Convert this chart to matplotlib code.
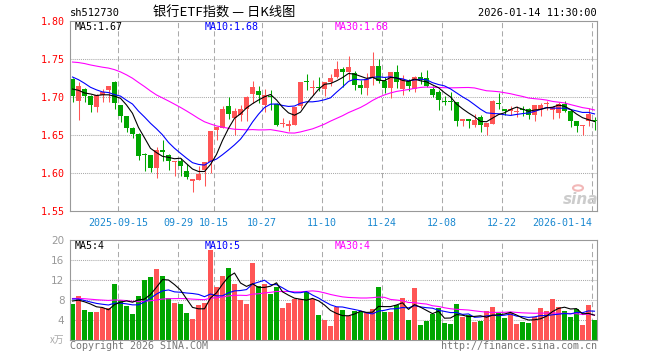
import numpy as np
import matplotlib
matplotlib.use('Agg')
import matplotlib.pyplot as plt
from matplotlib.patches import Circle

plt.rcParams['font.family'] = ['DejaVu Sans Mono', 'Noto Sans CJK SC']

# 日K数据 (2025-09-03 .. 2026-01-14)
open_ = [1.7237, 1.6943, 1.7110, 1.7018, 1.6864, 1.7022, 1.7088, 1.7202, 1.6899, 1.6754,
         1.6588, 1.6518, 1.6240, 1.6232, 1.6061, 1.6307, 1.6241, 1.6143, 1.6153, 1.6030,
         1.5891, 1.5912, 1.6035, 1.6145, 1.6562, 1.6592, 1.6886, 1.6724, 1.6763, 1.6846,
         1.7039, 1.7074, 1.6890, 1.7002, 1.6912, 1.6647, 1.6623, 1.6636, 1.6877, 1.7199,
         1.7116, 1.7120, 1.7105, 1.7193, 1.7259, 1.7364, 1.7333, 1.7311, 1.7154, 1.7114,
         1.7245, 1.7412, 1.7215, 1.7118, 1.7333, 1.7110, 1.7206, 1.7110, 1.7259, 1.7250,
         1.7110, 1.7061, 1.6940, 1.6940, 1.6938, 1.6680, 1.6715, 1.6631, 1.6737, 1.6601,
         1.6645, 1.6914, 1.6846, 1.6811, 1.6809, 1.6827, 1.6846, 1.6768, 1.6846, 1.6910,
         1.6825, 1.6790, 1.6908, 1.6811, 1.6680, 1.6625, 1.6680, 1.6702]
high = [1.7245, 1.7197, 1.7115, 1.7030, 1.7035, 1.7105, 1.7150, 1.7205, 1.6900, 1.6755,
        1.6605, 1.6520, 1.6263, 1.6235, 1.6342, 1.6430, 1.6245, 1.6160, 1.6197, 1.6123,
        1.5921, 1.6096, 1.6145, 1.6557, 1.6606, 1.6877, 1.6999, 1.6855, 1.6899, 1.7018,
        1.7215, 1.7149, 1.7110, 1.7096, 1.6915, 1.6724, 1.6693, 1.6870, 1.7202, 1.7307,
        1.7219, 1.7263, 1.7202, 1.7307, 1.7478, 1.7399, 1.7535, 1.7340, 1.7224, 1.7320,
        1.7588, 1.7504, 1.7259, 1.7333, 1.7417, 1.7294, 1.7237, 1.7281, 1.7325, 1.7360,
        1.7149, 1.7088, 1.7018, 1.7061, 1.6938, 1.6715, 1.6715, 1.6781, 1.6768, 1.6658,
        1.6965, 1.7057, 1.6846, 1.6886, 1.6877, 1.6886, 1.6855, 1.6890, 1.6921, 1.6951,
        1.6886, 1.6930, 1.6952, 1.6811, 1.6680, 1.6627, 1.6855, 1.6741]
low = [1.6930, 1.6700, 1.6930, 1.6798, 1.6800, 1.6938, 1.6940, 1.6847, 1.6670, 1.6535,
       1.6456, 1.6167, 1.6022, 1.6009, 1.5934, 1.6153, 1.6035, 1.5956, 1.5956, 1.5921,
       1.5746, 1.5912, 1.5833, 1.6000, 1.6438, 1.6592, 1.6715, 1.6500, 1.6680, 1.6680,
       1.6921, 1.6921, 1.6798, 1.6833, 1.6614, 1.6605, 1.6548, 1.6636, 1.6855, 1.7088,
       1.7031, 1.7075, 1.7018, 1.7150, 1.7250, 1.7136, 1.7223, 1.7096, 1.7044, 1.7022,
       1.7154, 1.7184, 1.7053, 1.6982, 1.7118, 1.7022, 1.7075, 1.7061, 1.7175, 1.7132,
       1.6996, 1.6833, 1.6899, 1.6833, 1.6614, 1.6614, 1.6588, 1.6605, 1.6535, 1.6496,
       1.6645, 1.6846, 1.6763, 1.6763, 1.6737, 1.6746, 1.6715, 1.6680, 1.6755, 1.6833,
       1.6715, 1.6724, 1.6799, 1.6601, 1.6535, 1.6496, 1.6623, 1.6570]
close = [1.7018, 1.7149, 1.7009, 1.6890, 1.7031, 1.7066, 1.7149, 1.6917, 1.6754, 1.6588,
         1.6518, 1.6219, 1.6237, 1.6061, 1.6307, 1.6272, 1.6153, 1.6145, 1.6096, 1.5947,
         1.5921, 1.5991, 1.6145, 1.6557, 1.6606, 1.6846, 1.6781, 1.6811, 1.6846, 1.6995,
         1.7127, 1.7022, 1.7022, 1.7000, 1.6636, 1.6649, 1.6649, 1.6868, 1.7202, 1.7197,
         1.7118, 1.7118, 1.7202, 1.7250, 1.7373, 1.7333, 1.7390, 1.7158, 1.7114, 1.7232,
         1.7403, 1.7206, 1.7114, 1.7333, 1.7202, 1.7237, 1.7140, 1.7267, 1.7219, 1.7140,
         1.7031, 1.6956, 1.6938, 1.6938, 1.6680, 1.6715, 1.6680, 1.6693, 1.6627, 1.6658,
         1.6952, 1.6912, 1.6811, 1.6846, 1.6811, 1.6825, 1.6768, 1.6890, 1.6890, 1.6912,
         1.6868, 1.6908, 1.6811, 1.6680, 1.6614, 1.6627, 1.6776, 1.6689]
# 成交量 (万)
volume = [7.2, 8.8, 6.0, 5.6, 5.6, 6.5, 6.5, 11.2, 8.0, 6.9, 5.2, 8.8, 12.0, 12.6, 14.2,
          12.8, 8.4, 7.4, 7.2, 5.4, 4.2, 7.0, 7.4, 18.0, 10.6, 12.8, 14.4, 11.2, 8.0, 7.2,
          15.4, 10.8, 11.2, 9.2, 10.6, 6.4, 7.4, 8.2, 8.2, 9.6, 8.2, 5.0, 4.0, 2.8,
          6.6, 6.0, 4.8, 5.8, 5.6, 5.4, 6.2, 10.6, 5.6, 5.6, 7.0, 8.4, 4.0, 10.4, 3.0,
          3.8, 5.2, 6.4, 3.4, 3.2, 7.2, 4.6, 5.0, 3.6, 3.8, 5.8, 6.6, 5.4, 4.4, 5.4,
          3.2, 3.6, 3.4, 4.6, 6.4, 5.8, 8.2, 6.6, 5.8, 4.6, 6.2, 3.0, 7.0, 4.0]
# 图外的前29日 (只用于均线), 按均线起点估计
prev_close = [1.735, 1.740, 1.745, 1.748, 1.750, 1.750, 1.753,
              1.765, 1.775, 1.785, 1.790, 1.785, 1.780, 1.788,
              1.745, 1.735, 1.740, 1.738, 1.733, 1.737,
              1.750, 1.748, 1.742, 1.737, 1.7335,
              1.7234, 1.7184, 1.6955, 1.7134]
prev_vol = [8.0, 8.2, 8.5, 8.6, 8.8, 8.6, 8.5,
            9.0, 9.5, 10.0, 10.2, 9.8, 9.6, 9.6,
            7.0, 6.5, 6.6, 6.8, 6.6, 6.6,
            9.0, 8.8, 8.6, 8.4, 8.2,
            8.0, 7.6, 7.8, 8.4]

tick_idx = [8, 18, 24, 32, 42, 52, 62, 72, 87]
tick_labels = ['2025-09-15', '09-29', '10-15', '10-27', '11-10', '11-24', '12-08', '12-22', '2026-01-14']
price_ticks = [1.55, 1.60, 1.65, 1.70, 1.75, 1.80]
vol_ticks = [4, 8, 12, 16, 20]

RED = '#ff5555'
GREEN = '#00a600'
GRID = '#aaaaaa'
W, H = 660, 360

o = np.array(open_); h = np.array(high); l = np.array(low); c = np.array(close)
v = np.array(volume)
n = len(c)
x = np.arange(n)
xc = x + 2.5 / 6
colors = np.where(c >= o, RED, GREEN)


def ma(arr, k):
    return np.convolve(arr, np.ones(k) / k, 'valid')[-n:]


allc = np.array(prev_close + close)
allv = np.array(prev_vol + volume)
pma = {k: ma(allc, k) for k in (5, 10, 30)}
vma = {k: ma(allv, k) for k in (5, 10, 30)}

fig = plt.figure(figsize=(6.6, 3.6), dpi=100)
ax = fig.add_axes([70 / W, 1 - 211 / H, 527 / W, 190 / H])
axv = fig.add_axes([70 / W, 1 - 340 / H, 527 / W, 100 / H])


def ftext(px, py, s, **kw):
    fig.text(px / W, 1 - py / H, s, **kw)


for a in (ax, axv):
    a.set_xlim(0, 527 / 6)
    for sp in a.spines.values():
        sp.set_color('#999999')
        sp.set_linewidth(0.8)
    for t in tick_idx:
        a.axvline(t, color=GRID, lw=0.75, ls=(0, (5, 3)), zorder=0)

# K线
ax.set_ylim(1.55, 1.80)
for t in price_ticks[1:-1]:
    ax.axhline(t, color=GRID, lw=0.75, ls=(0, (1, 1)), zorder=0)
ax.vlines(xc, l, h, colors=colors, lw=0.75, zorder=2)
ax.bar(xc, np.maximum(np.abs(c - o), 0.0012), bottom=np.minimum(o, c), width=5 / 6,
       color=colors, linewidth=0, zorder=2)
ax.plot(xc, pma[30], color='#ff00ff', lw=0.8, zorder=3)
ax.plot(xc, pma[10], color='#0000ff', lw=0.8, zorder=3)
ax.plot(xc, pma[5], color='black', lw=0.8, zorder=3)
ax.set_yticks(price_ticks, [f'{t:.2f}' for t in price_ticks])
ax.set_xticks(tick_idx, tick_labels)
ax.tick_params(axis='y', length=0, pad=4, labelcolor='#ff0000', labelsize=7.2)
ax.tick_params(axis='x', length=0, pad=5, labelcolor='#1a88d0', labelsize=7.2)
ax.get_xticklabels()[-1].set_ha('right')

# 成交量
axv.set_ylim(0, 20)
for t in vol_ticks[:-1]:
    axv.axhline(t, color=GRID, lw=0.75, ls=(0, (1, 1)), zorder=0)
axv.bar(xc, v, width=5 / 6, color=colors, linewidth=0, zorder=2)
axv.plot(xc, vma[30], color='#ff00ff', lw=0.8, zorder=3)
axv.plot(xc, vma[10], color='#0000ff', lw=0.8, zorder=3)
axv.plot(xc, vma[5], color='black', lw=0.8, zorder=3)
axv.set_yticks(vol_ticks, [str(t) for t in vol_ticks])
axv.set_xticks([])
axv.tick_params(axis='y', length=0, pad=4, labelcolor='#999999', labelsize=7.5)
for lab in axv.get_yticklabels():
    lab.set_family('DejaVu Sans')

# 文字
ftext(70, 13, 'sh512730', fontsize=7.5, va='center', ha='left')
ftext(224, 13, '银行ETF指数 — 日K线图', fontsize=9.5, va='center', ha='center',
      family=['Noto Sans CJK SC', 'DejaVu Sans'])
ftext(597, 13, '2026-01-14 11:30:00', fontsize=7.5, va='center', ha='right')

ftext(75, 27, f'MA5:{pma[5][-1]:.2f}', fontsize=7.2, va='center', color='black')
ftext(205, 27, f'MA10:{pma[10][-1]:.2f}', fontsize=7.2, va='center', color='#0000ff')
ftext(335, 27, f'MA30:{pma[30][-1]:.2f}', fontsize=7.2, va='center', color='#ff00ff')
ftext(75, 246, f'MA5:{int(vma[5][-1])}', fontsize=7.2, va='center', color='black')
ftext(205, 246, f'MA10:{int(vma[10][-1])}', fontsize=7.2, va='center', color='#0000ff')
ftext(335, 246, f'MA30:{int(vma[30][-1])}', fontsize=7.2, va='center', color='#ff00ff')

ftext(64, 340, 'x万', fontsize=7, va='center', ha='right', color='#aaaaaa',
      family=['Noto Sans CJK SC', 'DejaVu Sans'])
ftext(70, 346, 'Copyright 2026 SINA.COM', fontsize=7.2, va='center', ha='left', color='#777777')
ftext(597, 346, 'http://finance.sina.com.cn', fontsize=7.2, va='center', ha='right', color='#777777')

# sina 水印
ftext(581, 200, 'sina', fontsize=11, va='center', ha='center', color='#cccccc',
      style='italic', weight='bold', family='DejaVu Sans')
fig.patches.append(Circle((578 / W, 1 - 188 / H), 5 / W, transform=fig.transFigure,
                          facecolor='none', edgecolor='#f2b8b8', lw=1.5))

fig.savefig('out.png', dpi=100)
